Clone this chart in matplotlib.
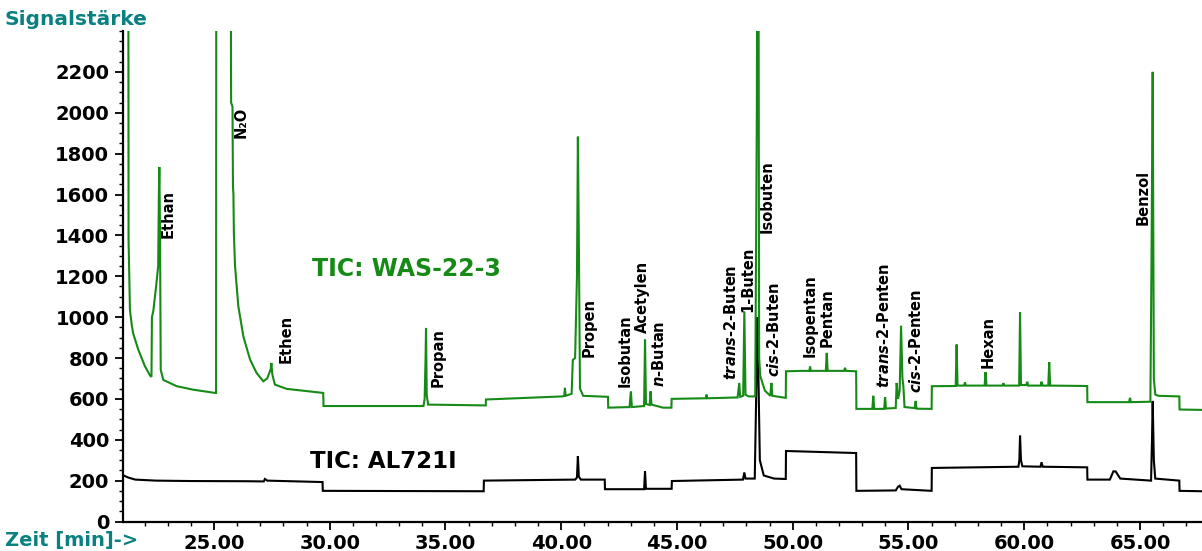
import matplotlib
matplotlib.use("Agg")
import matplotlib.pyplot as plt
from matplotlib.ticker import MultipleLocator, FormatStrFormatter

plt.rcParams["font.family"] = ["DejaVu Sans"]
plt.rcParams["font.weight"] = "bold"
plt.rcParams["mathtext.fontset"] = "custom"
plt.rcParams["mathtext.it"] = "DejaVu Sans:italic:bold"
plt.rcParams["mathtext.rm"] = "DejaVu Sans:bold"

# --- TIC: WAS-22-3 (retention time [min], signal) ---
was_time = [
    21.29, 21.30, 21.31, 21.37, 21.45, 21.51, 21.73, 22.02, 22.24, 22.30,
    22.32, 22.38, 22.50, 22.59, 22.62, 22.64, 22.67, 22.70, 22.81, 23.39,
    24.10, 25.05, 25.09, 25.10, 25.72, 25.74, 25.80, 25.82, 25.84, 25.86,
    25.91, 26.05, 26.27, 26.56, 26.84, 27.13, 27.30, 27.45, 27.48, 27.52,
    27.63, 28.14, 29.00, 29.72, 29.73, 34.05, 34.10, 34.14, 34.16, 34.19,
    34.25, 36.74, 36.75, 40.05, 40.13, 40.16, 40.19, 40.45, 40.50, 40.60,
    40.68, 40.72, 40.76, 40.81, 40.95, 42.02, 42.03, 42.95, 43.01, 43.05,
    43.58, 43.62, 43.66, 43.82, 43.86, 43.90, 44.40, 44.76, 44.77, 46.25,
    46.28, 46.31, 47.62, 47.69, 47.73, 47.86, 47.91, 47.96, 48.10, 48.38,
    48.45, 48.47, 48.52, 48.55, 48.60, 48.80, 49.03, 49.08, 49.12, 49.70,
    49.71, 50.40, 50.72, 50.75, 50.78, 51.43, 51.47, 51.51, 52.22, 52.26,
    52.30, 52.74, 52.75, 53.44, 53.48, 53.52, 53.95, 53.99, 54.03, 54.45,
    54.49, 54.55, 54.62, 54.68, 54.74, 54.78, 54.83, 55.27, 55.31, 55.35,
    56.00, 56.01, 57.04, 57.08, 57.12, 57.40, 57.44, 57.48, 58.29, 58.33,
    58.37, 59.06, 59.10, 59.14, 59.78, 59.82, 59.86, 60.09, 60.13, 60.17,
    60.71, 60.75, 60.79, 61.04, 61.08, 61.12, 62.72, 62.73, 64.53, 64.57,
    64.61, 65.45, 65.50, 65.55, 65.60, 65.66, 65.80, 66.70, 66.71, 67.68,
]
was_signal = [
    3000, 3000, 1380, 1035, 960, 920, 841, 759, 714, 708,
    1000, 1030, 1150, 1250, 1600, 1734, 1400, 742, 693, 662,
    645, 629, 629, 3000, 3000, 2050, 2030, 1640, 1600, 1410,
    1250, 1055, 905, 792, 727, 686, 700, 745, 776, 720,
    670, 649, 638, 629, 565, 565, 600, 800, 947, 620,
    572, 568, 597, 612, 615, 654, 615, 625, 790, 800,
    1200, 1883, 1400, 650, 615, 610, 557, 560, 637, 560,
    565, 890, 575, 570, 637, 572, 557, 557, 600, 603,
    621, 603, 607, 678, 610, 615, 1028, 620, 612, 612,
    2000, 3000, 3000, 800, 711, 640, 615, 678, 615, 605,
    735, 737, 737, 758, 737, 737, 825, 737, 737, 752,
    737, 735, 551, 551, 615, 551, 551, 609, 553, 555,
    678, 600, 640, 958, 700, 662, 560, 555, 590, 552,
    551, 662, 663, 866, 665, 665, 680, 665, 665, 731,
    665, 665, 677, 665, 665, 1024, 668, 668, 684, 665,
    665, 684, 665, 665, 780, 665, 663, 584, 584, 605,
    584, 586, 1300, 2200, 700, 621, 615, 612, 548, 546,
]

# --- TIC: AL721I (retention time [min], signal) ---
al_time = [
    21.10, 21.30, 21.60, 22.50, 24.00, 26.50, 27.15, 27.20, 27.30, 29.69,
    29.70, 36.65, 36.66, 40.60, 40.68, 40.72, 40.76, 40.85, 41.88, 41.89,
    43.58, 43.62, 43.66, 44.77, 44.78, 47.85, 47.91, 47.96, 48.36, 48.42,
    48.47, 48.52, 48.58, 48.75, 49.20, 49.70, 49.71, 52.74, 52.75, 54.45,
    54.55, 54.62, 54.70, 56.00, 56.01, 59.75, 59.79, 59.82, 59.86, 59.92,
    60.70, 60.75, 60.80, 62.72, 62.73, 63.70, 63.85, 63.95, 64.15, 65.48,
    65.52, 65.55, 65.60, 65.66, 66.70, 66.71, 67.68,
]
al_signal = [
    225, 215, 205, 200, 198, 197, 196, 208, 200, 193,
    150, 148, 200, 205, 215, 320, 220, 205, 205, 158,
    158, 245, 160, 160, 198, 205, 240, 210, 210, 600,
    1000, 700, 300, 225, 210, 208, 345, 335, 150, 152,
    170, 175, 158, 150, 262, 268, 300, 420, 300, 270,
    268, 290, 268, 265, 205, 205, 245, 245, 210, 200,
    400, 590, 300, 210, 200, 150, 148,
]

# --- Peak annotations: name, label x [min], label foot [signal] ---
peak_names = [
    "Ethan", "N₂O", "Ethen", "Propan", "Propen", "Isobutan", "Acetylen",
    r"$\mathit{n}$-Butan", r"$\mathit{trans}$-2-Buten", "1-Buten", "Isobuten",
    r"$\mathit{cis}$-2-Buten", "Isopentan", "Pentan", r"$\mathit{trans}$-2-Penten",
    r"$\mathit{cis}$-2-Penten", "Hexan", "Benzol",
]
label_time = [
    23.01, 26.19, 28.11, 34.68, 41.20, 42.78, 43.51, 44.24, 47.33, 48.07,
    48.89, 49.19, 50.75, 51.48, 53.94, 55.32, 58.43, 65.13,
]
label_foot = [
    1386, 1877, 776, 658, 805, 658, 922, 658, 693, 1025,
    1412, 707, 805, 854, 653, 629, 751, 1451,
]

y_ticks = list(range(0, 2201, 200))
x_ticks = [25, 30, 35, 40, 45, 50, 55, 60, 65]

GREEN = "#168a16"
TEAL = "#0a8080"

fig = plt.figure(figsize=(12.02, 5.51), dpi=100)
ax = fig.add_axes([123 / 1202, 1 - 521.5 / 551, 1 - 123 / 1202, (521.5 - 31) / 551])

ax.plot(al_time, al_signal, color="black", lw=1.5, solid_joinstyle="miter")
ax.plot(was_time, was_signal, color=GREEN, lw=1.5, solid_joinstyle="miter")

ax.set_xlim(21.07, 67.68)
ax.set_ylim(0, 2400)

for spine in ("top", "right"):
    ax.spines[spine].set_visible(False)
for spine in ("left", "bottom"):
    ax.spines[spine].set_linewidth(1.6)

ax.set_yticks(y_ticks)
ax.set_xticks(x_ticks)
ax.xaxis.set_major_formatter(FormatStrFormatter("%.2f"))
ax.xaxis.set_minor_locator(MultipleLocator(1))
ax.yaxis.set_minor_locator(MultipleLocator(50))
ax.tick_params(which="major", length=6, width=1.3, labelsize=14, pad=3)
ax.tick_params(which="minor", length=3, width=1.0)
ax.tick_params(axis="y", which="major", pad=4)
for lab in ax.get_xticklabels() + ax.get_yticklabels():
    lab.set_fontweight("bold")

for name, t, v in zip(peak_names, label_time, label_foot):
    ax.text(t, v, name, rotation=90, ha="center", va="bottom",
            fontsize=10.5, fontweight="bold", color="black")

ax.text(29.23, 1236, "TIC: WAS-22-3", color=GREEN, fontsize=17,
        fontweight="bold", ha="left", va="center")
ax.text(29.15, 296, "TIC: AL721I", color="black", fontsize=16.5,
        fontweight="bold", ha="left", va="center")

fig.text(5 / 1202, 1 - 10 / 551, "Signalstärke", color=TEAL, fontsize=14.5,
         fontweight="bold", ha="left", va="top")
fig.text(5 / 1202, 1 - 531 / 551, "Zeit [min]->", color=TEAL, fontsize=14,
         fontweight="bold", ha="left", va="top")

fig.savefig("out.png", dpi=100)
